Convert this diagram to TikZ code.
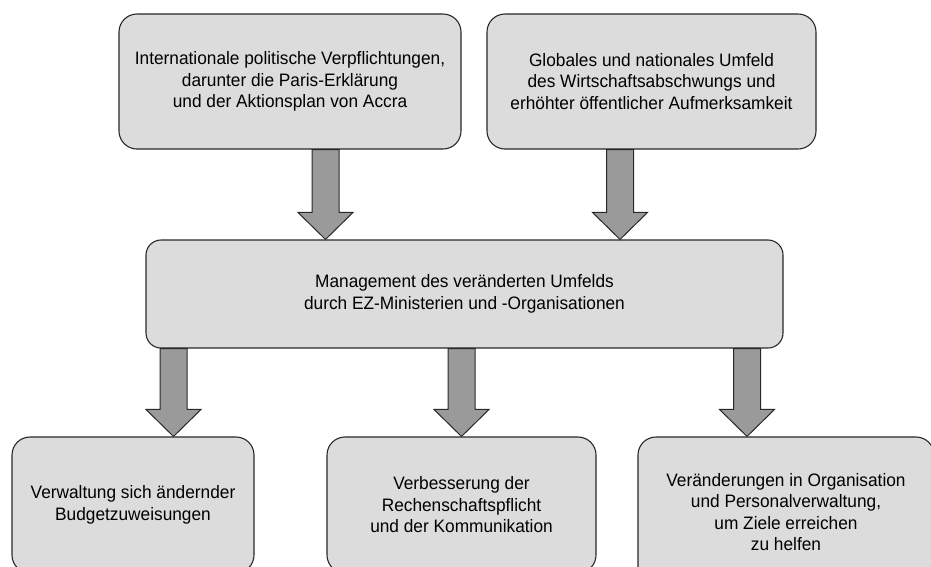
\documentclass[tikz,border=0pt]{standalone}
\usepackage{fontspec}
\setmainfont{Liberation Sans}[FakeStretch=0.96]
\usepackage{tikz}
\usetikzlibrary{calc}
\definecolor{boxgray}{RGB}{220,220,220}
\definecolor{arrowgray}{RGB}{154,154,154}
\definecolor{edgegray}{RGB}{40,40,40}
\tikzset{
box/.style={draw=edgegray, fill=boxgray, line width=1.1pt, rounded corners=18pt, align=center, inner sep=0pt, font=\fontsize{18}{21.5}\selectfont}, % the grey boxes
fatarrow/.style={draw=edgegray, fill=arrowgray, line width=1pt, line join=miter}, % the big arrows
}
% #1 start point (gives x), #2 end anchor (gives y of the tip)
\newcommand{\fatarrow}[2]{%
  \draw[fatarrow] let \p1=(#1), \p2=(#2) in
    (\x1-13.5pt,\y1) -- (\x1-13.5pt,\y2+27pt) -- (\x1-27.5pt,\y2+27pt) -- (\x1,\y2)
    -- (\x1+27.5pt,\y2+27pt) -- (\x1+13.5pt,\y2+27pt) -- (\x1+13.5pt,\y1) -- cycle;
}

\begin{document}
\begin{tikzpicture}[x=1pt,y=-1pt]
        \useasboundingbox (0,0) rectangle (931,566);
        \clip (0,0) rectangle (931,566);
        \node[box, minimum width=342, minimum height=135] at (290,81.5) (intl) {Internationale politische Verpflichtungen,\\darunter die Paris-Erklärung\\und der Aktionsplan von Accra};
        \node[box, minimum width=329, minimum height=135] at (651.5,81.5) (umfeld) {Globales und nationales Umfeld\\des Wirtschaftsabschwungs und\\erhöhter öffentlicher Aufmerksamkeit};
        \node[box, rounded corners=15pt, minimum width=637, minimum height=108] at (464.5,294) (mgmt) {Management des veränderten Umfelds\\durch EZ-Ministerien und -Organisationen};
        \node[box, minimum width=242, minimum height=136] at (133,505) (budget) {Verwaltung sich ändernder\\Budgetzuweisungen};
        \node[box, minimum width=269, minimum height=136] at (461.5,505) (rechen) {Verbesserung der\\Rechenschaftspflicht\\und der Kommunikation};
        \node[box, minimum width=296, minimum height=150] at (786,512) (orga) {Veränderungen in Organisation\\und Personalverwaltung,\\um Ziele erreichen\\zu helfen};
        \fatarrow{$(intl.south)+(35.5,0)$}{mgmt.north}
        \fatarrow{$(umfeld.south)+(-31.5,0)$}{mgmt.north}
        \fatarrow{$(mgmt.south -| budget.north)+(40.5,0)$}{budget.north}
        \fatarrow{mgmt.south -| rechen.north}{rechen.north}
        \fatarrow{$(mgmt.south -| orga.north)+(-39,0)$}{orga.north}
    \end{tikzpicture}
\end{document}
